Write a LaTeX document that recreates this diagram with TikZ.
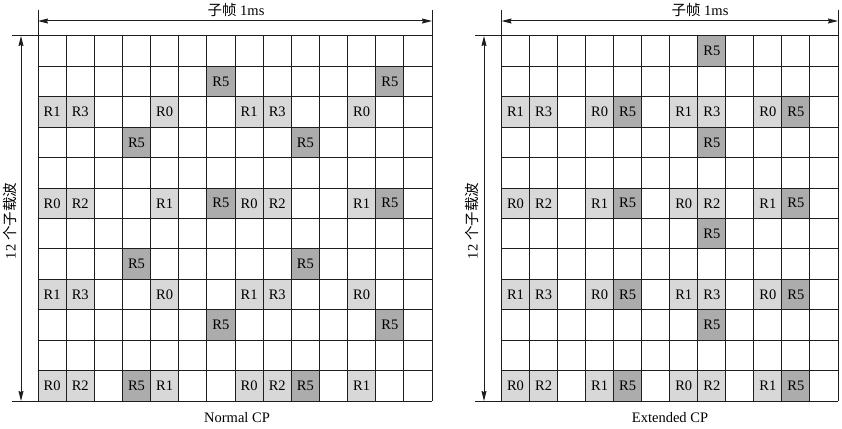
\documentclass[tikz,border=0pt]{standalone}
\usepackage{fontspec}
\setmainfont{Liberation Serif}
\newfontfamily\cjk{Noto Sans CJK SC}
\usetikzlibrary{arrows.meta}
\definecolor{lightcell}{RGB}{216,216,216}
\definecolor{darkcell}{RGB}{172,172,172}
\definecolor{gridline}{RGB}{30,30,30}
\begin{document}
\begin{tikzpicture}[x=1pt,y=-1pt,
  gridl/.style={draw=gridline,line width=1pt},
  cellbox/.style={draw=gridline,line width=1pt,inner sep=0pt,outer sep=0pt,
    anchor=north west,minimum height=30.42pt,font=\fontsize{14.5}{15}\selectfont},
  lt/.style={fill=lightcell},
  dk/.style={fill=darkcell},
  dimarrow/.style={draw=gridline,line width=1pt,{Stealth[length=10pt,width=5pt,inset=1pt]}-{Stealth[length=10pt,width=5pt,inset=1pt]}},
  lbl/.style={font=\fontsize{14.5}{16}\selectfont,inner sep=0pt}]
\useasboundingbox (0,0) rectangle (842,428);
\fill[white] (0,0) rectangle (842,428);

% ---------- left grid (Normal CP) ----------
\def\lx{38}\def\lw{28.143}\def\ty{36}\def\rh{30.417}
\foreach \c in {0,...,14}{\draw[gridl] ({\lx+\c*\lw},36) -- ({\lx+\c*\lw},401);}
\foreach \r in {0,...,12}{\draw[gridl] (38,{36+\r*\rh}) -- (432,{36+\r*\rh});}
\foreach \r/\c/\t/\s in {1/6/R5/dk,1/12/R5/dk,
  2/0/R1/lt,2/1/R3/lt,2/4/R0/lt,2/7/R1/lt,2/8/R3/lt,2/11/R0/lt,
  3/3/R5/dk,3/9/R5/dk,
  5/0/R0/lt,5/1/R2/lt,5/4/R1/lt,5/6/R5/dk,5/7/R0/lt,5/8/R2/lt,5/11/R1/lt,5/12/R5/dk,
  7/3/R5/dk,7/9/R5/dk,
  8/0/R1/lt,8/1/R3/lt,8/4/R0/lt,8/7/R1/lt,8/8/R3/lt,8/11/R0/lt,
  9/6/R5/dk,9/12/R5/dk,
  11/0/R0/lt,11/1/R2/lt,11/3/R5/dk,11/4/R1/lt,11/7/R0/lt,11/8/R2/lt,11/9/R5/dk,11/11/R1/lt}
  {\node[cellbox,\s,minimum width=28.143pt] (L-\r-\c) at ({\lx+\c*\lw},{\ty+\r*\rh}) {\t};}

\coordinate (LTL) at (38,36);
\coordinate (LTR) at (432,36);
\coordinate (LBL) at (38,401);
\coordinate (LTLup) at (38,10);
\coordinate (LTRup) at (432,10);
\coordinate (LTLleft) at (12,36);
\coordinate (LBLleft) at (12,401);
\coordinate (LA1) at (38,21);
\coordinate (LA2) at (432,21);
\coordinate (LV1) at (21,36);
\coordinate (LV2) at (21,401);
\draw[gridl] (LTL) -- (LTLup);
\draw[gridl] (LTR) -- (LTRup);
\draw[gridl] (LTL) -- (LTLleft);
\draw[gridl] (LBL) -- (LBLleft);
\draw[dimarrow] (LA1) -- (LA2);
\draw[dimarrow] (LV1) -- (LV2);
\node[lbl] (Ltitle) at (236,10) {{\cjk 子帧} 1ms};
\node[lbl,rotate=90] (Lside) at (10,221) {12 {\cjk 个子载波}};
\node[lbl] (Lcap) at (237,418) {Normal CP};

% ---------- right grid (Extended CP) ----------
\def\rx{501.5}\def\rw{28.042}
\foreach \c in {0,...,12}{\draw[gridl] ({\rx+\c*\rw},36) -- ({\rx+\c*\rw},401);}
\foreach \r in {0,...,12}{\draw[gridl] (501.5,{36+\r*\rh}) -- (838,{36+\r*\rh});}
\foreach \r/\c/\t/\s in {0/7/R5/dk,
  2/0/R1/lt,2/1/R3/lt,2/3/R0/lt,2/4/R5/dk,2/6/R1/lt,2/7/R3/lt,2/9/R0/lt,2/10/R5/dk,
  3/7/R5/dk,
  5/0/R0/lt,5/1/R2/lt,5/3/R1/lt,5/4/R5/dk,5/6/R0/lt,5/7/R2/lt,5/9/R1/lt,5/10/R5/dk,
  6/7/R5/dk,
  8/0/R1/lt,8/1/R3/lt,8/3/R0/lt,8/4/R5/dk,8/6/R1/lt,8/7/R3/lt,8/9/R0/lt,8/10/R5/dk,
  9/7/R5/dk,
  11/0/R0/lt,11/1/R2/lt,11/3/R1/lt,11/4/R5/dk,11/6/R0/lt,11/7/R2/lt,11/9/R1/lt,11/10/R5/dk}
  {\node[cellbox,\s,minimum width=28.042pt] (R-\r-\c) at ({\rx+\c*\rw},{\ty+\r*\rh}) {\t};}

\coordinate (RTL) at (501.5,36);
\coordinate (RTR) at (838,36);
\coordinate (RBL) at (501.5,401);
\coordinate (RTLup) at (501.5,10);
\coordinate (RTRup) at (838,10);
\coordinate (RTLleft) at (475,36);
\coordinate (RBLleft) at (475,401);
\coordinate (RA1) at (501.5,21);
\coordinate (RA2) at (838,21);
\coordinate (RV1) at (484,36);
\coordinate (RV2) at (484,401);
\draw[gridl] (RTL) -- (RTLup);
\draw[gridl] (RTR) -- (RTRup);
\draw[gridl] (RTL) -- (RTLleft);
\draw[gridl] (RBL) -- (RBLleft);
\draw[dimarrow] (RA1) -- (RA2);
\draw[dimarrow] (RV1) -- (RV2);
\node[lbl] (Rtitle) at (700,10) {{\cjk 子帧} 1ms};
\node[lbl,rotate=90] (Rside) at (472,221) {12 {\cjk 个子载波}};
\node[lbl] (Rcap) at (670,418) {Extended CP};
\end{tikzpicture}
\end{document}
